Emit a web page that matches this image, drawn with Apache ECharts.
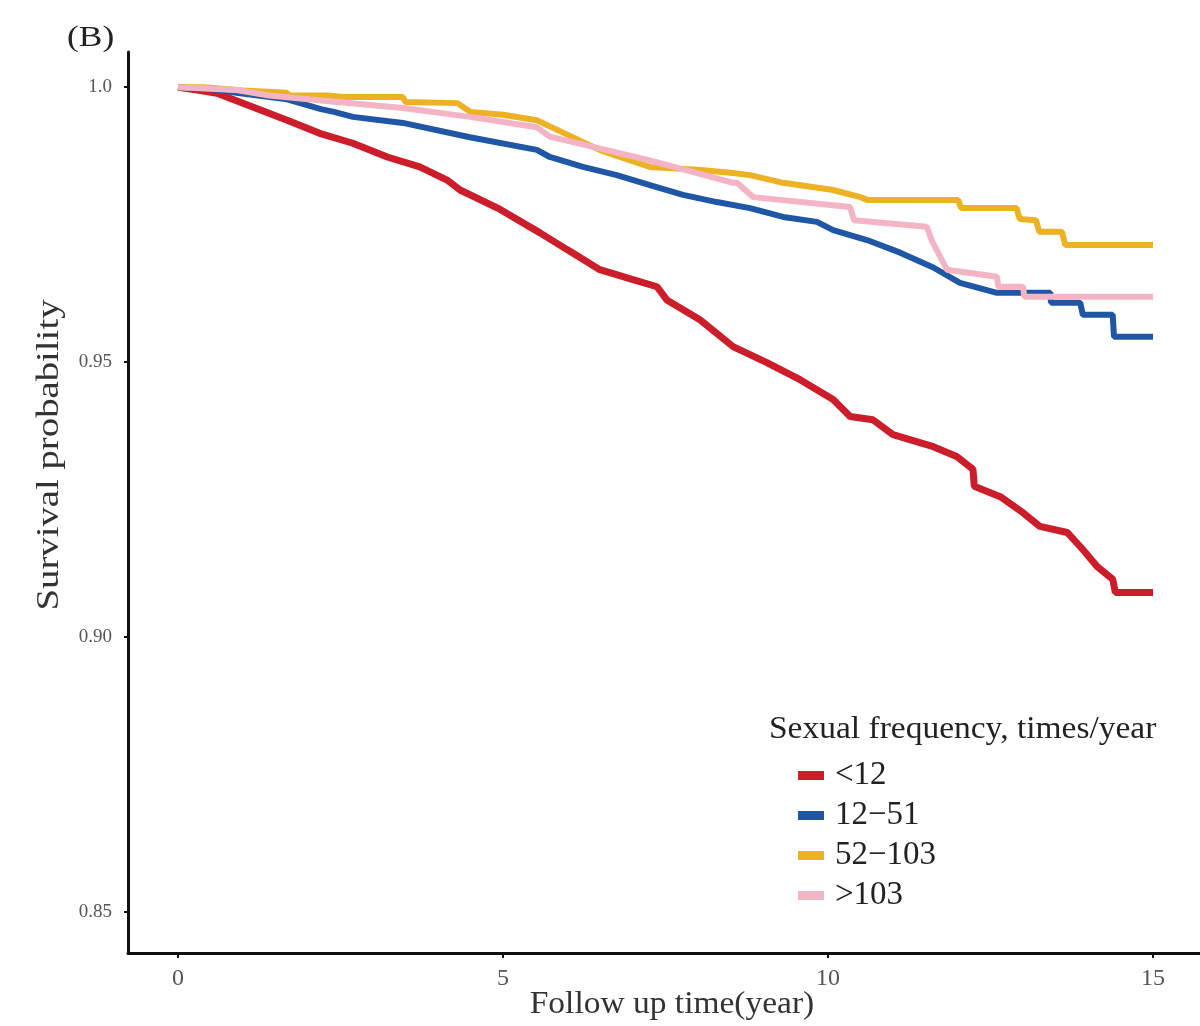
<!DOCTYPE html>
<html>
<head>
<meta charset="utf-8">
<script src="https://cdn.jsdelivr.net/npm/echarts@6/dist/echarts.min.js"></script>
<style>
html,body{margin:0;padding:0;background:#fff;}
#chart{width:1200px;height:1026px;}
</style>
</head>
<body>
<div id="chart"></div>
<script>
// ---- data (time in years, survival probability) ----
const seriesNames = ['<12', '12\u221251', '52\u2212103', '>103'];
const seriesColors = ['#CC1D2A', '#1F56A5', '#EDB224', '#F3B5C6'];
const xTicks = [0, 5, 10, 15];
const yTicks = [0.85, 0.90, 0.95, 1.0];

const red = [[0,1.0],[0.3,0.9995],[0.6,0.9989],[1.15,0.9964],[1.68,0.9940],[2.18,0.9916],[2.69,0.9898],[3.22,0.9873],[3.72,0.9855],[4.14,0.9831],[4.34,0.9813],[4.95,0.9778],[5.57,0.9735],[5.98,0.9705],[6.49,0.9668],[7.0,0.9650],[7.37,0.9637],[7.52,0.9613],[8.03,0.9577],[8.54,0.9528],[9.06,0.9499],[9.57,0.9468],[10.08,0.9432],[10.34,0.9401],[10.69,0.9395],[11.0,0.9368],[11.62,0.9346],[11.98,0.9328],[12.23,0.9305],[12.25,0.9274],[12.65,0.9255],[13.0,0.9226],[13.26,0.9201],[13.68,0.9190],[13.92,0.9159],[14.14,0.9128],[14.38,0.9105],[14.42,0.9081],[15.0,0.9081]];

const blue = [[0,1.0],[0.65,0.9995],[0.9,0.9990],[1.68,0.9978],[2.2,0.9960],[2.4,0.9955],[2.69,0.9946],[3.46,0.9935],[4.49,0.9909],[5.52,0.9886],[5.72,0.9873],[6.23,0.9855],[6.75,0.9840],[7.26,0.9822],[7.77,0.9804],[8.29,0.9791],[8.8,0.9780],[9.31,0.9764],[9.83,0.9755],[10.08,0.9740],[10.6,0.9722],[11.11,0.9699],[11.62,0.9672],[12.03,0.9644],[12.6,0.9626],[13.42,0.9626],[13.43,0.9608],[13.88,0.9608],[13.92,0.9586],[14.38,0.9586],[14.4,0.9546],[15.0,0.9546]];

const yellow = [[0,1.0],[0.4,1.0],[1.0,0.9994],[1.68,0.9990],[1.7,0.9985],[2.3,0.9985],[2.55,0.9982],[3.46,0.9982],[3.5,0.9973],[4.3,0.9971],[4.5,0.9955],[5.0,0.9950],[5.52,0.9940],[5.77,0.9926],[6.5,0.9885],[7.26,0.9855],[8.0,0.9850],[8.54,0.9844],[8.8,0.9840],[9.31,0.9826],[10.08,0.9813],[10.5,0.9800],[10.6,0.9795],[12.0,0.9795],[12.05,0.9780],[12.9,0.9780],[12.95,0.9760],[13.2,0.9758],[13.25,0.9737],[13.6,0.9737],[13.65,0.9713],[15.0,0.9713]];

const pink = [[0,1.0],[0.9,0.9995],[1.4,0.9985],[2.45,0.9973],[3.46,0.9962],[4.49,0.9946],[5.52,0.9927],[5.72,0.9910],[7.26,0.9867],[8.54,0.9826],[8.6,0.9826],[8.85,0.9800],[10.34,0.9782],[10.4,0.9758],[11.52,0.9746],[11.6,0.9720],[11.83,0.9668],[12.6,0.9655],[12.62,0.9637],[13.0,0.9637],[13.02,0.9619],[15.0,0.9619]];

const allData = [red, blue, yellow, pink];

const chart = echarts.init(document.getElementById('chart'));
const serif = 'Liberation Serif, DejaVu Serif, serif';

chart.setOption({
  backgroundColor: '#ffffff',
  animation: false,
  grid: { left: 128, right: 0, top: 52, bottom: 73, containLabel: false, outerBoundsMode: 'none' },
  xAxis: {
    type: 'value', min: -0.769, max: 15.723,
    splitLine: { show: false },
    axisLine: { show: true, onZero: false, lineStyle: { color: '#111', width: 3 } },
    axisTick: { show: true, length: 5, customValues: xTicks, lineStyle: { color: '#111', width: 2 } },
    axisLabel: { customValues: xTicks, margin: 14, color: '#555', fontSize: 24, fontFamily: serif }
  },
  yAxis: {
    type: 'value', min: 0.8425, max: 1.0064,
    splitLine: { show: false },
    axisLine: { show: true, onZero: false, lineStyle: { color: '#111', width: 3 } },
    axisTick: { show: true, length: 4, customValues: yTicks, lineStyle: { color: '#111', width: 2 } },
    axisLabel: { customValues: yTicks, margin: 16, color: '#555', fontSize: 19, fontFamily: serif,
      formatter: v => (Math.abs(v - 1) < 1e-9 ? '1.0' : v.toFixed(2)) }
  },
  legend: {
    orient: 'vertical', left: 793, top: 754, itemGap: 7,
    itemWidth: 26, itemHeight: 9, icon: 'rect',
    textStyle: { fontFamily: serif, fontSize: 33, color: '#222', lineHeight: 33, padding: [0, 0, 0, 6] },
    data: seriesNames
  },
  graphic: [
    { type: 'text', x: 67, y: 38, scaleX: 1.18, style: { text: '(B)', font: '30px ' + serif, fill: '#222', verticalAlign: 'middle' } },
    { type: 'text', x: 769, y: 730, scaleX: 1.08, style: { text: 'Sexual frequency, times/year', font: '31px ' + serif, fill: '#222', verticalAlign: 'middle' } },
    { type: 'text', x: 672, y: 1005, scaleX: 1.08, style: { text: 'Follow up time(year)', font: '31px ' + serif, fill: '#333', align: 'center', verticalAlign: 'middle' } },
    { type: 'text', x: 50, y: 455, rotation: Math.PI / 2, scaleX: 1.25, style: { text: 'Survival probability', font: '31px ' + serif, fill: '#333', align: 'center', verticalAlign: 'middle' } }
  ],
  series: allData.map((d, i) => ({
    name: seriesNames[i],
    type: 'line',
    data: d,
    showSymbol: false,
    symbol: 'none',
    color: seriesColors[i],
    lineStyle: { width: i === 0 ? 7 : 6, color: seriesColors[i] },
    itemStyle: { color: seriesColors[i] },
    z: 2 + i
  }))
});
</script>
</body>
</html>
